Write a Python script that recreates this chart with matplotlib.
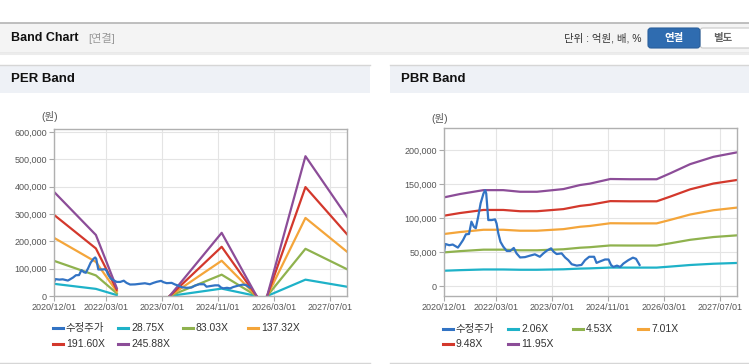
import numpy as np
import pandas as pd
import matplotlib
matplotlib.use('Agg')
import matplotlib.pyplot as plt
from matplotlib.patches import Rectangle, FancyBboxPatch
from matplotlib.lines import Line2D

plt.rcParams['font.family'] = ['Liberation Sans', 'Noto Sans CJK KR']

# ---- data ----
# adjusted close (수정주가), won
price_dates = ['2020-12-01', '2020-12-13', '2021-01-16', '2021-02-15', '2021-03-19', '2021-04-01',
               '2021-04-16', '2021-05-16', '2021-06-10', '2021-07-07', '2021-07-28', '2021-08-19',
               '2021-09-04', '2021-09-25', '2021-10-16', '2021-11-10', '2021-11-25', '2021-12-04',
               '2021-12-22', '2022-01-22', '2022-02-19', '2022-03-04', '2022-03-19', '2022-04-07',
               '2022-05-01', '2022-06-01', '2022-07-01', '2022-08-01', '2022-08-25', '2022-09-25',
               '2022-11-07', '2022-12-19', '2023-02-01', '2023-03-16', '2023-04-16', '2023-05-16',
               '2023-06-22', '2023-07-13', '2023-08-10', '2023-09-22', '2023-10-22', '2023-11-19',
               '2023-12-19', '2024-02-01', '2024-03-13', '2024-04-13', '2024-05-19', '2024-07-01',
               '2024-07-22', '2024-08-19', '2024-10-04', '2024-11-04', '2024-11-25', '2024-12-16',
               '2025-01-16', '2025-02-13', '2025-03-13', '2025-04-25', '2025-06-04', '2025-07-01',
               '2025-08-01']
price = [50000, 61800, 60000, 61000, 57800, 56500,
         60000, 67600, 76000, 76500, 94600, 87000,
         85000, 102000, 121600, 136000, 141000, 136000,
         97000, 97000, 98000, 92000, 77500, 65000,
         58000, 51500, 51500, 56000, 48000, 42000,
         42500, 44600, 46600, 43000, 48000, 52000,
         55400, 50500, 47000, 48000, 42000, 38000,
         32000, 30000, 31000, 38000, 43000, 43000,
         34000, 36000, 39000, 39000, 31000, 28000,
         30000, 28000, 33000, 38000, 41700, 40000,
         31000]

# EPS basis for the PER band (gaps where no band is drawn)
eps_dates = ['2020-12-01', '2021-12-01', '2022-06-01', '2022-12-01', '2023-09-05', '2024-12-01',
             '2025-10-01', '2025-11-15', '2026-01-01', '2026-12-01', '2027-11-28']
eps = [1550, 908, 118, np.nan, 0, 940, 0, np.nan, 0, 2080, 1180]
per_multiples = [28.75, 83.03, 137.32, 191.60, 245.88]

# BPS basis for the PBR band
bps_dates = ['2020-12-01', '2021-04-19', '2021-11-10', '2022-05-01', '2022-09-25', '2023-02-19',
             '2023-10-07', '2024-03-01', '2024-05-25', '2024-11-19', '2025-05-10', '2025-12-28',
             '2026-04-25', '2026-10-16', '2027-05-07', '2027-11-28']
bps = [10910, 11320, 11800, 11800, 11600, 11600,
       11930, 12430, 12600, 13170, 13140, 13140,
       13870, 15000, 15900, 16450]
pbr_multiples = [2.06, 4.53, 7.01, 9.48, 11.95]

tick_dates = ['2020-12-01', '2022-03-01', '2023-07-01', '2024-11-01', '2026-03-01', '2027-07-01']

price_color = '#3273c4'
band_colors = ['#1eb2c8', '#8fb24e', '#f4a53a', '#d3382c', '#8c4d98']

W, H = 749, 364
fig = plt.figure(figsize=(W / 100, H / 100), dpi=100, facecolor='white')

# page decoration in pixel coordinates
bg = fig.add_axes([0, 0, 1, 1], zorder=0)
bg.set_xlim(0, W)
bg.set_ylim(H, 0)
bg.axis('off')

bg.add_patch(Rectangle((0, 22.5), W, 30, facecolor='#f4f4f4', edgecolor='none'))
bg.plot([0, W], [22.5, 22.5], color='#b4b4b4', lw=1.2)
bg.plot([0, W], [52.5, 52.5], color='#bcbcbc', lw=1.0)
bg.plot([0, W], [54, 54], color='#ececec', lw=1.5)
bg.text(11, 38, 'Band Chart', fontsize=9, fontweight='bold', color='#111111', va='center')
bg.text(88, 38, '[연결]', fontsize=8, color='#999999', va='center')
bg.text(642, 38, '단위 : 억원, 배, %', fontsize=7.5, color='#333333', va='center', ha='right')
bg.add_patch(FancyBboxPatch((700, 28), 60, 20, boxstyle='round,pad=0,rounding_size=3',
                            facecolor='white', edgecolor='#c8c8c8', lw=0.8))
bg.add_patch(FancyBboxPatch((648, 28), 52, 20, boxstyle='round,pad=0,rounding_size=3',
                            facecolor='#2f6cb0', edgecolor='#2a5f9c', lw=0.8))
bg.text(674, 38.5, '연결', fontsize=7.5, fontweight='bold', color='white', ha='center', va='center')
bg.text(723, 38.5, '별도', fontsize=7.5, fontweight='bold', color='#666666', ha='center', va='center')

for x0, x1, title in [(0, 370, 'PER Band'), (390, W, 'PBR Band')]:
    bg.add_patch(Rectangle((x0, 64.5), x1 - x0, 28.5, facecolor='#eef1f6', edgecolor='none'))
    bg.plot([x0, x1], [64.5, 64.5], color='#d6d6d6', lw=1.0)
    bg.plot([x0, x1], [363, 363], color='#d6d6d6', lw=1.0)
    bg.text(x0 + 11, 79, title, fontsize=9.5, fontweight='bold', color='#111111', va='center')

bg.text(50, 117, '(원)', fontsize=7.5, color='#555555', ha='center', va='center')
bg.text(440, 118, '(원)', fontsize=7.5, color='#555555', ha='center', va='center')


def style_axes(ax, yticks, ylim):
    ax.set_xlim(pd.Timestamp('2020-12-01'), pd.Timestamp('2027-11-28'))
    ax.set_ylim(*ylim)
    ax.set_xticks(pd.to_datetime(tick_dates))
    ax.set_xticklabels([d.replace('-', '/') for d in tick_dates])
    ax.set_yticks(yticks)
    ax.set_yticklabels(['{:,.0f}'.format(v) for v in yticks])
    ax.grid(True, color='#e4e4e4', lw=0.8)
    ax.set_axisbelow(True)
    for s in ax.spines.values():
        s.set_color('#b0b0b0')
        s.set_linewidth(1.0)
    ax.tick_params(direction='out', length=3.5, width=0.8, color='#aaaaaa',
                   labelcolor='#555555', labelsize=6.5, pad=1.5)


def legend_rows(x_cols, rows, labels, colors):
    k = 0
    for y in rows:
        for x in x_cols:
            if k >= len(labels):
                return
            bg.add_line(Line2D([x, x + 10], [y, y], color=colors[k], lw=2.2))
            bg.text(x + 13, y, labels[k], fontsize=7.5, color='#333333', va='center')
            k += 1


# PER band
ax1 = fig.add_axes([54 / W, 1 - 296 / H, 293 / W, 167 / H], zorder=1)
ed = pd.to_datetime(eps_dates)
for m, c in zip(per_multiples, band_colors):
    ax1.plot(ed, np.array(eps) * m, color=c, lw=1.6)
ax1.plot(pd.to_datetime(price_dates), price, color=price_color, lw=1.6)
style_axes(ax1, np.arange(0, 600001, 100000), (0, 611000))

# PBR band
ax2 = fig.add_axes([444 / W, 1 - 296 / H, 293 / W, 168 / H], zorder=1)
bd = pd.to_datetime(bps_dates)
for m, c in zip(pbr_multiples, band_colors):
    ax2.plot(bd, np.array(bps) * m, color=c, lw=1.6)
ax2.plot(pd.to_datetime(price_dates), price, color=price_color, lw=1.6)
style_axes(ax2, np.arange(0, 200001, 50000), (-14700, 232400))

legend_colors = [price_color] + band_colors
legend_rows([53, 118, 183, 248], [328, 344],
            ['수정주가'] + ['{:.2f}X'.format(m) for m in per_multiples], legend_colors)
legend_rows([443, 508, 573, 638], [329, 344],
            ['수정주가'] + ['{:.2f}X'.format(m) for m in pbr_multiples], legend_colors)

fig.savefig('out.png', dpi=100)
